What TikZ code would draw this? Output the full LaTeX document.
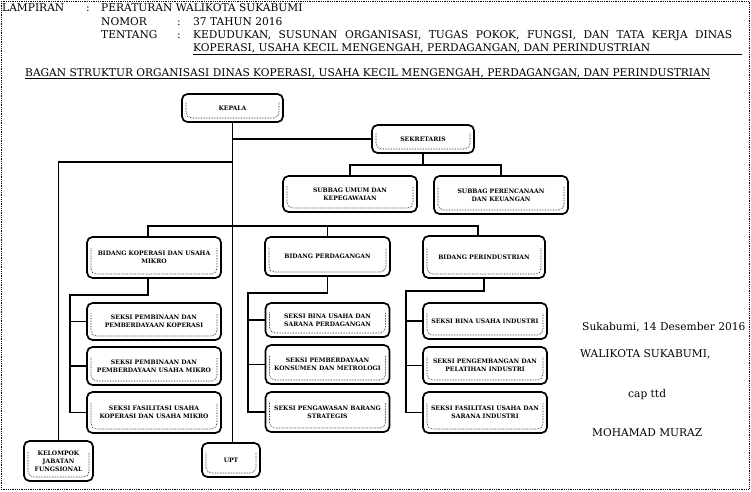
\documentclass[tikz,border=0pt]{standalone}
\usepackage{fontspec}
\setmainfont{DejaVu Serif}
\usepackage{tikz}
\usetikzlibrary{calc}

\newcommand{\headfont}{\fontsize{10.65}{13}\selectfont}
\newcommand{\unitfont}{\fontsize{6.1}{8}\selectfont\bfseries}

\tikzset{
  unit/.style={draw, line width=1.7pt, rounded corners=5.5pt, align=center,
    inner sep=1pt, font=\unitfont,
    path picture={
      \draw[densely dotted, line width=0.6pt]
        ($(path picture bounding box.north west)!0.28!(path picture bounding box.south west)+(4pt,0pt)$)
        |- ($(path picture bounding box.south east)+(-4pt,4pt)$)
        -- ($(path picture bounding box.north east)!0.28!(path picture bounding box.south east)+(-4pt,0pt)$);
    }},
  sz/.style 2 args={minimum width=#1pt, minimum height=#2pt},
  link/.style={line width=1.8pt},
  head/.style={anchor=base west, inner sep=0pt, font=\headfont},
}

\begin{document}
\begin{tikzpicture}[x=1pt, y=-1pt]
    \useasboundingbox (0,0) rectangle (751,491);
    % page frame
    \draw[densely dotted, line width=0.8pt] (1,1) rectangle (749,489);

    % header
    \node[head] (lamp) at (2,11) {LAMPIRAN};
    \node[head] (lampc) at (86,11) {:};
    \node[head] (perwal) at (101,11) {PERATURAN WALIKOTA SUKABUMI};
    \node[head] (nomor) at (101,25) {NOMOR};
    \node[head] (nomorc) at (177,25) {:};
    \node[head] (nomorv) at (193,25) {37 TAHUN 2016};
    \node[head] (tentang) at (101,38) {TENTANG};
    \node[head] (tentangc) at (177,38) {:};
    \node[head] (judul1) at (193,38) {\makebox[539pt][s]{KEDUDUKAN, SUSUNAN ORGANISASI, TUGAS POKOK, FUNGSI, DAN TATA KERJA DINAS}};
    \node[head] (judul2) at (193,51) {KOPERASI, USAHA KECIL MENGENGAH, PERDAGANGAN, DAN PERINDUSTRIAN};
    \coordinate (rule) at (742,54);
    \draw[line width=0.8pt] (judul2.base west |- rule) -- (rule);
    \node[head] (bagan) at (25,76) {BAGAN STRUKTUR ORGANISASI DINAS KOPERASI, USAHA KECIL MENGENGAH, PERDAGANGAN, DAN PERINDUSTRIAN};
    \draw[line width=0.6pt] ([yshift=-2pt]bagan.base west) -- ([yshift=-2pt]bagan.base east);

    % pimpinan
    \node[unit, sz={101}{28}] (kepala) at (232.5,108) {KEPALA};
    \node[unit, sz={102}{28}] (sekretaris) at (423,139) {SEKRETARIS};
    \node[unit, sz={134}{36}] (subum) at (350,194) {SUBBAG UMUM DAN\\KEPEGAWAIAN};
    \node[unit, sz={134}{38}] (subren) at (501,195) {SUBBAG PERENCANAAN\\DAN KEUANGAN};

    % bidang
    \node[unit, sz={134}{41}] (bkop) at (154,257.5) {BIDANG KOPERASI DAN USAHA\\MIKRO};
    \node[unit, sz={125}{39}] (bperd) at (327.5,256.5) {BIDANG PERDAGANGAN};
    \node[unit, sz={122}{42}] (bind) at (484,257) {BIDANG PERINDUSTRIAN};

    % seksi koperasi
    \node[unit, sz={134}{37}] (ks1) at (154,321.5) {SEKSI PEMBINAAN DAN\\PEMBERDAYAAN KOPERASI};
    \node[unit, sz={134}{38}] (ks2) at (154,366) {SEKSI PEMBINAAN DAN\\PEMBERDAYAAN USAHA MIKRO};
    \node[unit, sz={134}{41}] (ks3) at (154,412.5) {SEKSI FASILITASI USAHA\\KOPERASI DAN USAHA MIKRO};

    % seksi perdagangan
    \node[unit, sz={124}{34}] (ds1) at (327.5,320) {SEKSI BINA USAHA DAN\\SARANA PERDAGANGAN};
    \node[unit, sz={124}{39}] (ds2) at (327.5,364.5) {SEKSI PEMBERDAYAAN\\KONSUMEN DAN METROLOGI};
    \node[unit, sz={124}{40}] (ds3) at (327.5,412) {SEKSI PENGAWASAN BARANG\\STRATEGIS};

    % seksi perindustrian
    \node[unit, sz={124}{36}] (is1) at (485,321) {SEKSI BINA USAHA INDUSTRI};
    \node[unit, sz={124}{37}] (is2) at (485,365.5) {SEKSI PENGEMBANGAN DAN\\PELATIHAN INDUSTRI};
    \node[unit, sz={124}{41}] (is3) at (485,412.5) {SEKSI FASILITASI USAHA DAN\\SARANA INDUSTRI};

    % bawah
    \node[unit, sz={69}{40}] (kelompok) at (58.5,461) {KELOMPOK\\JABATAN\\FUNGSIONAL};
    \node[unit, sz={58}{34}] (upt) at (231,460) {UPT};

    % garis komando
    \coordinate (fung) at (232.5,162);
    \coordinate (bus) at (232.5,226);
    \coordinate (kopj) at (70,295);
    \coordinate (dagj) at (248,293);
    \coordinate (indj) at (406,291);
    \draw[link] (kepala.south) -- (kepala.south |- upt.north);
    \draw[link] (kepala.south |- sekretaris.west) -- (sekretaris.west);
    \draw[link] (fung) -| (kelompok.north);
    \draw[link] (sekretaris.south) -- ++(0,11) coordinate (sek);
    \draw[link] (subum.north) |- (sek) -| (subren.north);
    \draw[link] ([xshift=-6pt]bkop.north) |- (bus) -| ([xshift=-6pt]bind.north);
    \draw[link] (bperd.north) -- (bperd.north |- bus);

    \draw[link] ([xshift=-6pt]bkop.south) |- (kopj) |- (ks3.west);
    \draw[link] (kopj |- ks1.west) -- (ks1.west);
    \draw[link] (kopj |- ks2.west) -- (ks2.west);

    \draw[link] (bperd.south) |- (dagj) |- (ds3.west);
    \draw[link] (dagj |- ds1.west) -- (ds1.west);
    \draw[link] (dagj |- ds2.west) -- (ds2.west);

    \draw[link] (bind.south) |- (indj) |- (is3.west);
    \draw[link] (indj |- is1.west) -- (is1.west);
    \draw[link] (indj |- is2.west) -- (is2.west);

    % pengesahan
    \node[head] (tempat) at (582,330) {Sukabumi, 14 Desember 2016};
    \node[head] (jabatan) at (580,357) {WALIKOTA SUKABUMI,};
    \node[head] (cap) at (628,397) {cap ttd};
    \node[head] (nama) at (592,436) {MOHAMAD MURAZ};
\end{tikzpicture}
\end{document}
